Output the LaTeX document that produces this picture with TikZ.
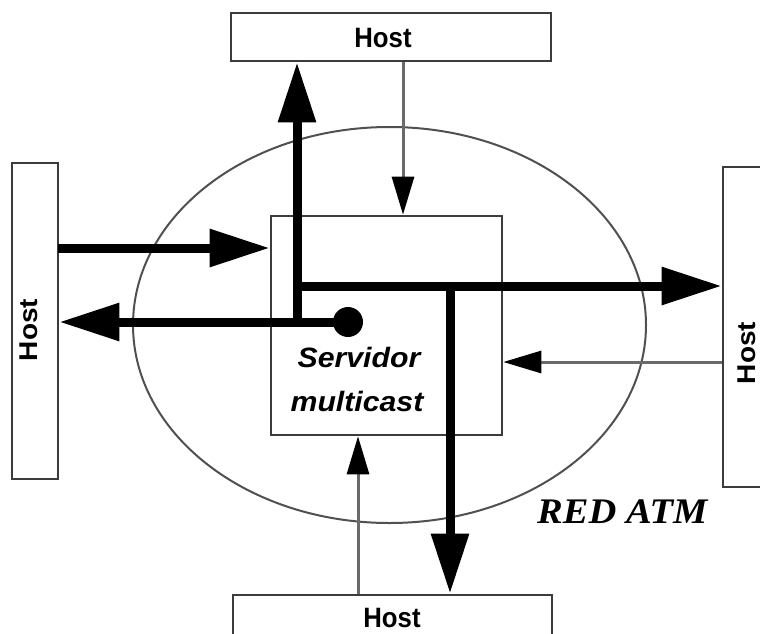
\documentclass[tikz,border=0pt]{standalone}
\usepackage{fontspec}
\setmainfont{Liberation Sans}
\newfontfamily\serifbi{Liberation Serif}
\usetikzlibrary{arrows.meta}
\definecolor{boxline}{HTML}{3C3C3C}
\definecolor{thinline}{HTML}{6A6A6A}
\definecolor{ellline}{HTML}{505050}
\tikzset{
  hostbox/.style={draw=boxline, line width=2.6pt, fill=white, rectangle, inner sep=0pt},
  hostlabel/.style={font=\fontsize{28}{30}\selectfont\bfseries, xscale=0.92, inner sep=0pt, anchor=base},
  bigarrow/.style={line width=9pt, -{Triangle[length=60pt,width=36pt]}},
  thinarrow/.style={draw=thinline, line width=3pt, -{Triangle[length=38pt,width=22pt,color=black]}},
  srvlabel/.style={font=\fontsize{28}{30}\selectfont\bfseries\itshape, xscale=1.08, inner sep=0pt, anchor=base},
}
\begin{document}
\begin{tikzpicture}[x=1pt,y=-1pt]
\useasboundingbox (0,0) rectangle (760,634);
\clip (0,0) rectangle (760,634);
% network ellipse
\draw[ellline, line width=2pt] (389.5,325) ellipse [x radius=256.5, y radius=198];
% boxes
\node[hostbox, minimum width=320pt, minimum height=48pt] (top) at (391,37) {};
\node[hostbox, minimum width=46pt, minimum height=316pt] (left) at (35,321) {};
\node[hostbox, minimum width=46pt, minimum height=320pt] (right) at (746,327) {};
\node[hostbox, minimum width=319pt, minimum height=48pt] (bottom) at (392.5,619) {};
\node[hostbox, minimum width=231pt, minimum height=219pt] (server) at (386.5,325.5) {};
% labels
\node[hostlabel] (toplabel) at (383,48) {Host};
\node[hostlabel] (bottomlabel) at (392,627) {Host};
\node[hostlabel, rotate=90] (leftlabel) at (37,330) {Host};
\node[hostlabel, rotate=90] (rightlabel) at (755,353) {Host};
\node[srvlabel] (srv1) at (359,367) {Servidor};
\node[srvlabel] (srv2) at (357,411) {multicast};
\node[font=\fontsize{36}{38}\selectfont\serifbi\bfseries\itshape, xscale=1.07, inner sep=0pt, anchor=base west] (red) at (537,523) {RED ATM};
% thin arrows into the server
\draw[thinarrow] (top.south -| 403,0) -- (server.north -| 403,0);
\draw[thinarrow] (right.west |- 0,362) -- (server.east |- 0,362);
\draw[thinarrow] (bottom.north -| 358,0) -- (server.south -| 358,0);
% thick multicast paths
\node[circle, fill=black, minimum size=30pt, inner sep=0pt] (dot) at (348,322) {};
\coordinate (j1) at (297,322);
\coordinate (j2) at (297,286);
\coordinate (j3) at (450,286);
\coordinate (in) at (58,248);
\draw[bigarrow] (in) -- (server.west |- in);
\draw[bigarrow] (dot.center) -- (left.east |- dot.center);
\draw[bigarrow] (j1) -- (top.south -| j1);
\draw[bigarrow] (j2) -- (right.west |- j2);
\draw[bigarrow] (j3) -- (bottom.north -| j3);
\end{tikzpicture}
\end{document}
